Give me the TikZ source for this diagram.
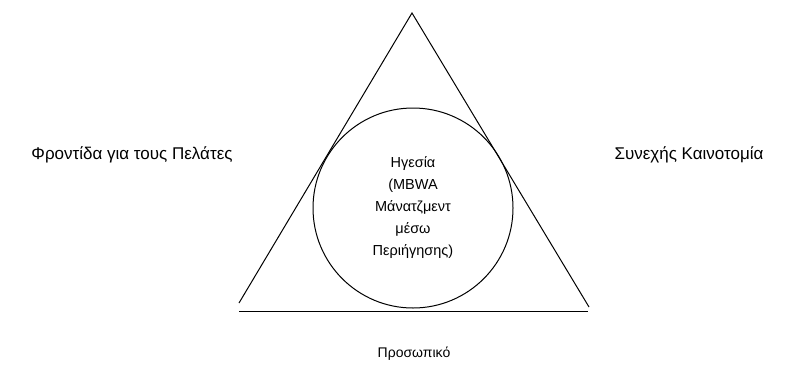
\documentclass[tikz,border=0pt]{standalone}
\usepackage{fontspec}
\setmainfont{Liberation Sans}
\begin{document}
\begin{tikzpicture}[x=1pt,y=-1pt,
  edge/.style={draw=black,line width=1pt},
  lbl/.style={font=\fontsize{17}{20}\selectfont,inner sep=0pt},
  small/.style={font=\fontsize{14}{16}\selectfont,inner sep=0pt},
  inner/.style={font=\fontsize{14.5}{22}\selectfont,align=center,inner sep=0pt}]
\useasboundingbox (0,0) rectangle (792,370);
\coordinate (apex) at (412,13);
\coordinate (bl) at (239,303);
\coordinate (br) at (589,307);
\coordinate (basel) at (239,311);
\coordinate (baser) at (588,311);
\draw[edge] (bl) -- (apex) -- (br);
\draw[edge] (basel) -- (baser);
\node[draw=black,line width=1pt,circle,minimum size=200pt,inner sep=0pt] (lead) at (413,208) {};
\node[inner] (leadtxt) at (lead.center) {Ηγεσία\\(MBWA\\Μάνατζμεντ\\μέσω\\Περιήγησης)};
\node[lbl] (care) at (132,155) {Φροντίδα για τους Πελάτες};
\node[lbl] (innov) at (689,155) {Συνεχής Καινοτομία};
\node[small] (staff) at (414,354) {Προσωπικό};
\end{tikzpicture}
\end{document}
